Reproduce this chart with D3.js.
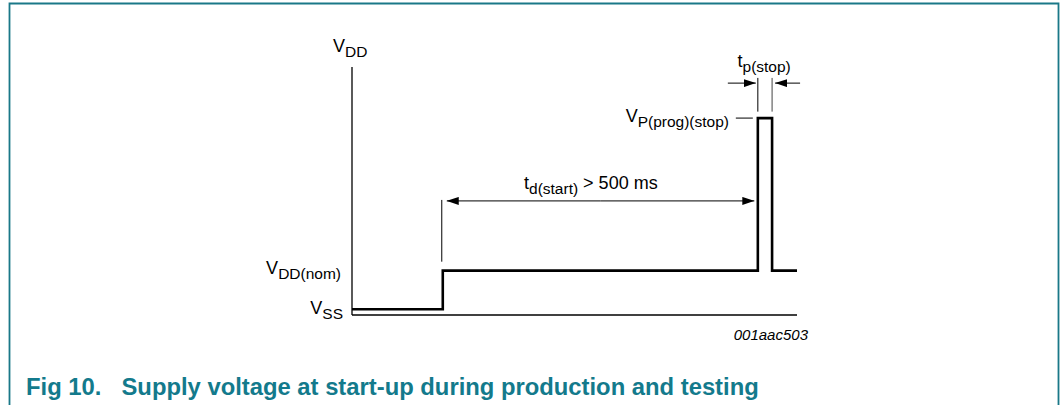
<!DOCTYPE html>
<html>
<head>
<meta charset="utf-8">
<script src="https://cdn.jsdelivr.net/npm/d3@7"></script>
<style>
  body { margin: 0; background: #fff; }
  svg text { font-family: Arial, "Liberation Sans", Helvetica, sans-serif; }
</style>
</head>
<body>
<div id="chart"></div>
<script>
// timing diagram data (time in % of sweep, level in arbitrary volts)
var levelNames = ["VSS", "VDD(nom)", "VP(prog)(stop)"];
var levelValues = [0.23, 1.79, 7.94];
var signalTimes = [0, 20.4, 20.4, 91.2, 91.2, 94.4, 94.4, 100];
var signalLevels = [0.23, 0.23, 1.79, 1.79, 7.94, 7.94, 1.79, 1.79];
var markTimes = [20.4, 91.2, 94.4]; // start, pulse edges

var W = 1064, H = 405;
var svg = d3.select("#chart").append("svg")
  .attr("width", W).attr("height", H);

// frame
svg.append("path")
  .attr("d", "M9.5,406 L9.5,3.5 L1058.5,3.5 L1058.5,406")
  .attr("fill", "none")
  .attr("stroke", "#1a7888")
  .attr("stroke-width", 1.8);

var x = d3.scaleLinear().domain([0, 100]).range([352, 797]);
var y = d3.scaleLinear().domain([0, 10]).range([315, 67]);

// axes
svg.append("line")
  .attr("x1", x(0)).attr("x2", x(0))
  .attr("y1", y(10)).attr("y2", y(0))
  .attr("stroke", "#000").attr("stroke-width", 1.3);
svg.append("line")
  .attr("x1", x(0)).attr("x2", x(100))
  .attr("y1", y(0)).attr("y2", y(0))
  .attr("stroke", "#000").attr("stroke-width", 1.3);

// signal
var pts = signalTimes.map(function(t, i) { return [x(t), y(signalLevels[i])]; });
svg.append("path")
  .attr("d", d3.line()(pts))
  .attr("fill", "none")
  .attr("stroke", "#000")
  .attr("stroke-width", 2.6)
  .attr("stroke-linejoin", "miter");

// arrow heads
var defs = svg.append("defs");
defs.append("marker")
  .attr("id", "arr")
  .attr("viewBox", "0 0 12 8")
  .attr("refX", 12).attr("refY", 4)
  .attr("markerWidth", 12).attr("markerHeight", 8)
  .attr("markerUnits", "userSpaceOnUse")
  .attr("orient", "auto")
  .append("path").attr("d", "M0,0 L12,4 L0,8 Z").attr("fill", "#000");

var thin = function(sel) { return sel.attr("stroke", "#000").attr("stroke-width", 1).attr("fill", "none"); };

// td(start) dimension
svg.append("line").call(thin)
  .attr("x1", x(markTimes[0]) - 1).attr("x2", x(markTimes[0]) - 1)
  .attr("y1", y(4.64)).attr("y2", y(2.15));
var tdY = y(4.6);
svg.append("line").call(thin)
  .attr("x1", (x(markTimes[0]) + x(markTimes[1])) / 2).attr("x2", x(markTimes[0]) + 4)
  .attr("y1", tdY).attr("y2", tdY).attr("marker-end", "url(#arr)");
svg.append("line").call(thin)
  .attr("x1", (x(markTimes[0]) + x(markTimes[1])) / 2).attr("x2", x(markTimes[1]) - 3.5)
  .attr("y1", tdY).attr("y2", tdY).attr("marker-end", "url(#arr)");

// tp(stop) dimension
markTimes.slice(1).forEach(function(t, i) {
  svg.append("line").call(thin)
    .attr("stroke", i ? "#444" : "#000")
    .attr("x1", x(t)).attr("x2", x(t))
    .attr("y1", y(9.56)).attr("y2", y(8.2));
});
var tpY = y(9.35);
svg.append("line").call(thin)
  .attr("x1", x(markTimes[1]) - 30).attr("x2", x(markTimes[1]) - 2)
  .attr("y1", tpY).attr("y2", tpY).attr("marker-end", "url(#arr)");
svg.append("line").call(thin)
  .attr("x1", x(markTimes[2]) + 28).attr("x2", x(markTimes[2]) + 3)
  .attr("y1", tpY).attr("y2", tpY).attr("marker-end", "url(#arr)");

// VP level tick
svg.append("line").call(thin)
  .attr("x1", x(markTimes[1]) - 22).attr("x2", x(markTimes[1]) - 5)
  .attr("y1", y(levelValues[2])).attr("y2", y(levelValues[2]));

// labels with subscripts
function label(xp, yp, main, sub, anchor, rest) {
  var t = svg.append("text")
    .attr("x", xp).attr("y", yp)
    .attr("text-anchor", anchor)
    .attr("font-size", 18).attr("fill", "#000");
  t.append("tspan").text(main);
  t.append("tspan").attr("font-size", 15.5).attr("dy", 5).text(sub);
  if (rest) t.append("tspan").attr("dy", -5).text(rest);
  return t;
}

label(333, 52, "V", "DD", "start");
label(341, y(levelValues[1]) + 3, "V", "DD(nom)", "end");
label(343, y(levelValues[0]) + 5, "V", "SS", "end");
label(729, y(levelValues[2]) + 4, "V", "P(prog)(stop)", "end");
label(737.5, 67, "t", "p(stop)", "start");
label(524, 188.5, "t", "d(start)", "start", " > 500 ms");

svg.append("text")
  .attr("x", 808).attr("y", 340)
  .attr("text-anchor", "end")
  .attr("font-size", 15).attr("font-style", "italic")
  .text("001aac503");

// caption
var cap = svg.append("g").attr("fill", "#137a8c").attr("font-weight", "bold").attr("font-size", 23.8);
cap.append("text").attr("x", 26).attr("y", 394.5).text("Fig 10.");
cap.append("text").attr("x", 121.5).attr("y", 394.5).text("Supply voltage at start-up during production and testing");
</script>
</body>
</html>
